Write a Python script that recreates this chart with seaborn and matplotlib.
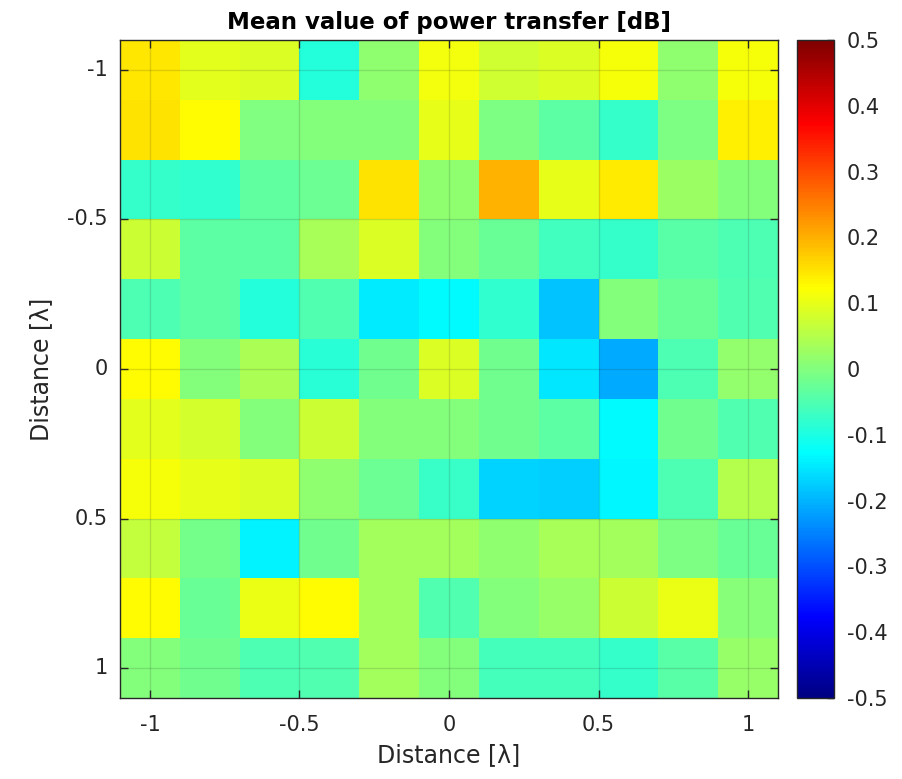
import numpy as np
import pandas as pd
import matplotlib
matplotlib.use("Agg")
import matplotlib.pyplot as plt
from matplotlib.colors import ListedColormap
import seaborn as sns

# ---------------- data ----------------
x_positions = [-1.0, -0.8, -0.6, -0.4, -0.2, 0.0, 0.2, 0.4, 0.6, 0.8, 1.0]
y_positions = [-1.0, -0.8, -0.6, -0.4, -0.2, 0.0, 0.2, 0.4, 0.6, 0.8, 1.0]

row_y_m10 = [0.148, 0.096, 0.086, -0.091, 0.012, 0.112, 0.076, 0.086, 0.115, 0.012, 0.115]
row_y_m08 = [0.150, 0.125, -0.002, 0.000, 0.000, 0.100, -0.007, -0.037, -0.076, -0.007, 0.138]
row_y_m06 = [-0.076, -0.081, -0.032, -0.022, 0.150, 0.012, 0.198, 0.100, 0.142, 0.027, 0.000]
row_y_m04 = [0.071, -0.037, -0.037, 0.037, 0.086, 0.000, -0.027, -0.066, -0.076, -0.042, -0.051]
row_y_m02 = [-0.051, -0.037, -0.091, -0.047, -0.145, -0.130, -0.081, -0.184, 0.003, -0.027, -0.047]
row_y_00 = [0.125, 0.003, 0.042, -0.086, -0.017, 0.086, -0.017, -0.150, -0.208, -0.051, 0.017]
row_y_02 = [0.096, 0.081, 0.000, 0.071, 0.000, 0.003, -0.017, -0.037, -0.130, -0.017, -0.047]
row_y_04 = [0.115, 0.100, 0.086, 0.012, -0.022, -0.071, -0.169, -0.172, -0.135, -0.051, 0.047]
row_y_06 = [0.066, -0.012, -0.140, -0.017, 0.032, 0.032, 0.012, 0.037, 0.032, -0.007, -0.027]
row_y_08 = [0.125, -0.027, 0.105, 0.125, 0.032, -0.047, 0.000, 0.022, 0.071, 0.105, 0.007]
row_y_10 = [0.003, -0.017, -0.051, -0.047, 0.032, 0.003, -0.061, -0.061, -0.076, -0.042, 0.022]

axis_tick_values = [-1, -0.5, 0, 0.5, 1]
axis_tick_labels = ["-1", "-0.5", "0", "0.5", "1"]
cbar_tick_values = [-0.5, -0.4, -0.3, -0.2, -0.1, 0, 0.1, 0.2, 0.3, 0.4, 0.5]
cbar_tick_labels = ["-0.5", "-0.4", "-0.3", "-0.2", "-0.1", "0", "0.1", "0.2", "0.3", "0.4", "0.5"]

rows = [row_y_m10, row_y_m08, row_y_m06, row_y_m04, row_y_m02, row_y_00,
        row_y_02, row_y_04, row_y_06, row_y_08, row_y_10]
df = pd.DataFrame(rows, index=y_positions, columns=x_positions)


# ---------------- MATLAB-style jet colormap ----------------
def matlab_jet(m=256):
    n = int(np.ceil(m / 4))
    u = np.concatenate([np.arange(1, n + 1) / n, np.ones(n - 1), np.arange(n, 0, -1) / n])
    g = int(np.ceil(n / 2)) - (1 if m % 4 == 1 else 0) + np.arange(1, len(u) + 1)
    r = g + n
    b = g - n
    g = g[g <= m]
    r = r[r <= m]
    b = b[b >= 1]
    J = np.zeros((m, 3))
    J[r - 1, 0] = u[:len(r)]
    J[g - 1, 1] = u[:len(g)]
    J[b - 1, 2] = u[len(u) - len(b):]
    return ListedColormap(J)


jet = matlab_jet(256)

# ---------------- style ----------------
sns.set_style("white")
plt.rcParams["font.family"] = ["DejaVu Sans"]
plt.rcParams["axes.unicode_minus"] = False
dark = "#262626"

fig = plt.figure(figsize=(9.02, 7.79), dpi=100)
ax = fig.add_axes([120 / 902, 81 / 779, 658 / 902, 658 / 779])
cax = fig.add_axes([797 / 902, 81 / 779, 37 / 902, 658 / 779])

sns.heatmap(df, cmap=jet, vmin=-0.5, vmax=0.5, ax=ax, cbar_ax=cax,
            linewidths=0, rasterized=True)

step_x = x_positions[1] - x_positions[0]
step_y = y_positions[1] - y_positions[0]
xt = [(v - x_positions[0]) / step_x + 0.5 for v in axis_tick_values]
yt = [(v - y_positions[0]) / step_y + 0.5 for v in axis_tick_values]
ax.set_xticks(xt)
ax.set_xticklabels(axis_tick_labels, rotation=0)
ax.set_yticks(yt)
ax.set_yticklabels(axis_tick_labels, rotation=0)

ax.tick_params(direction="in", length=6, width=1, colors=dark, labelsize=15,
               top=True, right=True, bottom=True, left=True)
ax.tick_params(axis="x", pad=12)
ax.tick_params(axis="y", pad=9)
for side in ["top", "bottom", "left", "right"]:
    ax.spines[side].set_visible(True)
    ax.spines[side].set_color(dark)
    ax.spines[side].set_linewidth(1)

ax.grid(True, color=dark, alpha=0.15, linewidth=1)
ax.set_axisbelow(False)

ax.set_xlabel("Distance [λ]", fontsize=17, color=dark, labelpad=6)
ax.set_ylabel("Distance [λ]", fontsize=17, color=dark, labelpad=10)
ax.set_title("Mean value of power transfer [dB]", fontsize=16.5, fontweight="bold",
             color="black", pad=8)

cbar = ax.collections[0].colorbar
cbar.set_ticks(cbar_tick_values)
cbar.set_ticklabels(cbar_tick_labels)
cax.tick_params(direction="in", length=5, width=1, colors=dark, labelsize=15,
                right=True, left=False, pad=9)
cbar.outline.set_edgecolor(dark)
cbar.outline.set_linewidth(1)

fig.savefig("out.png", dpi=100)
